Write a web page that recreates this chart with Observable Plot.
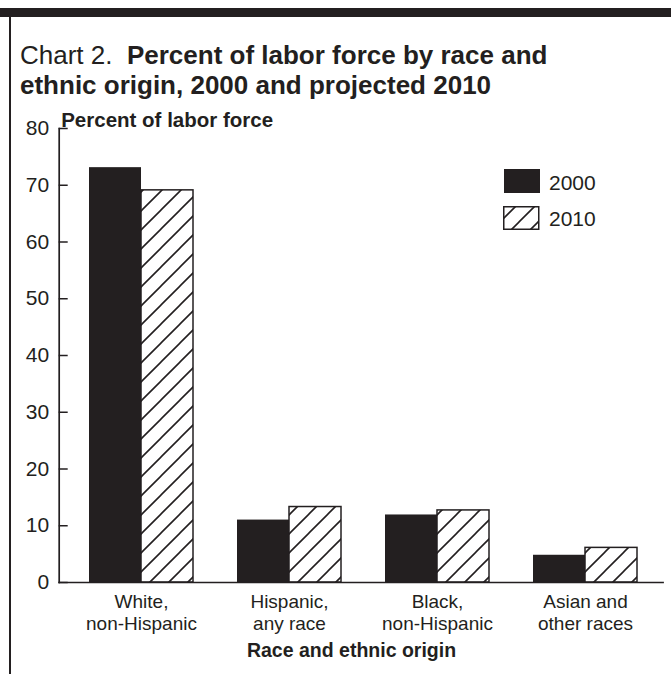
<!DOCTYPE html>
<html>
<head>
<meta charset="utf-8">
<script src="https://cdn.jsdelivr.net/npm/d3@7"></script>
<script src="https://cdn.jsdelivr.net/npm/@observablehq/plot@0.6"></script>
<style>
  body { margin: 0; background: #fff; font-family: "Liberation Sans", Arial, Helvetica, sans-serif; color: #231f20; }
  #wrap { position: relative; width: 671px; height: 674px; overflow: hidden; background: #fff; }
  #topbar { position: absolute; left: 0; top: 8px; width: 671px; height: 9px; background: #231f20; }
  #leftbar { position: absolute; left: 9px; top: 17px; width: 2px; height: 657px; background: #231f20; }
  #title { position: absolute; left: 20px; top: 40px; font-size: 26px; line-height: 30px; white-space: nowrap; }
  #title b { font-weight: bold; }
  #chart { position: absolute; left: 0; top: 96px; }
  #legend { position: absolute; left: 500px; top: 165px; }
</style>
</head>
<body>
<div id="wrap">
  <div id="topbar"></div>
  <div id="leftbar"></div>
  <div id="title">Chart 2.&nbsp; <b>Percent of labor force by race and<br>ethnic origin, 2000 and projected 2010</b></div>
  <div id="chart"></div>
  <div id="legend"></div>
</div>
<script>
// ---- data ----
const categories = ["White, non-Hispanic", "Hispanic, any race", "Black, non-Hispanic", "Asian and other races"];
const tickLabels = ["White,\nnon-Hispanic", "Hispanic,\nany race", "Black,\nnon-Hispanic", "Asian and\nother races"];
const years = ["2000", "2010"];
const values2000 = [73.1, 11.0, 11.9, 4.8];
const values2010 = [69.1, 13.3, 12.7, 6.1];
const yTicks = [0, 10, 20, 30, 40, 50, 60, 70, 80];
const yLabel = "Percent of labor force";
const xLabel = "Race and ethnic origin";

const ink = "#231f20";
const font = '"Liberation Sans", Arial, Helvetica, sans-serif';

const rows = [];
categories.forEach((c, i) => {
  rows.push({category: c, year: years[0], value: values2000[i]});
  rows.push({category: c, year: years[1], value: values2010[i]});
});

function hatchDefs(id) {
  const defs = d3.create("svg:defs");
  const p = defs.append("pattern")
    .attr("id", id).attr("patternUnits", "userSpaceOnUse")
    .attr("width", 19).attr("height", 19);
  p.append("rect").attr("width", 19).attr("height", 19).attr("fill", "#fff");
  p.append("path")
    .attr("d", "M0,19L19,0M-5,5L5,-5M14,24L24,14")
    .attr("stroke", ink).attr("stroke-width", 1.6).attr("fill", "none");
  return defs;
}

// facet band layout (outer padding shifts the groups right of the axis)
const fxPadOuter = 0.04, fxAlign = 0.7;
const W = 671, mL = 58, mR = 8;
const step = (W - mL - mR) / (categories.length + 2 * fxPadOuter);
const gapL = 2 * fxPadOuter * step * fxAlign;
const gapR = 2 * fxPadOuter * step * (1 - fxAlign);

const chart = Plot.plot({
  width: W,
  height: 578,
  marginLeft: mL,
  marginRight: mR,
  marginTop: 32,
  marginBottom: 92,
  style: {fontFamily: font, fontSize: "19px", color: ink, background: "transparent", overflow: "visible"},
  fx: {domain: categories, paddingInner: 0, paddingOuter: fxPadOuter, align: fxAlign, label: null, axis: null},
  x: {domain: years, paddingInner: 0, paddingOuter: 0.4, axis: null},
  y: {domain: [0, 80], axis: null},
  marks: [
    () => hatchDefs("hatch").node(),
    Plot.barY(rows.filter(d => d.year === years[0]), {fx: "category", x: "year", y: "value", fill: ink}),
    Plot.barY(rows.filter(d => d.year === years[1]), {fx: "category", x: "year", y: "value", fill: "url(#hatch)", stroke: ink, strokeWidth: 1.5}),
    Plot.frame({anchor: "bottom", facet: "super", insetLeft: -gapL, insetRight: -gapR, stroke: ink, strokeWidth: 1.7}),
    Plot.frame({anchor: "left", facet: "super", insetLeft: -gapL, stroke: ink, strokeWidth: 1.7}),
    Plot.axisY(yTicks, {anchor: "left", dx: -gapL, tickSize: -9, tickPadding: 19, fontSize: 21, stroke: ink, strokeWidth: 1.5, label: null}),
    Plot.axisFx({anchor: "bottom", tickSize: 0, tickPadding: 10, fontSize: 19, lineHeight: 1.15, label: null,
      tickFormat: d => tickLabels[categories.indexOf(d)]}),
    Plot.text([yLabel], {facet: "super", frameAnchor: "top-left", dx: 2 - gapL, dy: -16, textAnchor: "start", fontWeight: "bold", fontSize: 20.5}),
    Plot.text([xLabel], {facet: "super", frameAnchor: "bottom", dx: -12, dy: 74, fontWeight: "bold", fontSize: 19.5})
  ]
});
document.getElementById("chart").appendChild(chart);

// ---- legend ----
const leg = d3.select("#legend").append("svg").attr("width", 120).attr("height", 70)
  .style("font-family", font);
leg.append(() => hatchDefs("hatchLeg").node());
leg.append("rect").attr("x", 4).attr("y", 4).attr("width", 36).attr("height", 24).attr("fill", ink);
leg.append("text").attr("x", 49).attr("y", 18).attr("dy", "0.35em").attr("font-size", 21).attr("fill", ink).text(years[0]);
leg.append("rect").attr("x", 3.75).attr("y", 41.75).attr("width", 35).attr("height", 22.5)
  .attr("fill", "url(#hatchLeg)").attr("stroke", ink).attr("stroke-width", 1.5);
leg.append("text").attr("x", 49).attr("y", 54).attr("dy", "0.35em").attr("font-size", 21).attr("fill", ink).text(years[1]);
</script>
</body>
</html>
